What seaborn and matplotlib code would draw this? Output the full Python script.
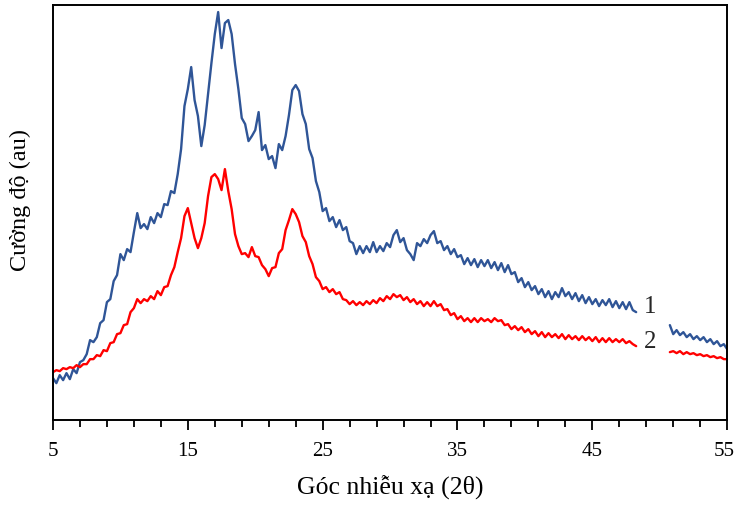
import numpy as np
import pandas as pd
import matplotlib
matplotlib.use("Agg")
import matplotlib.pyplot as plt
import matplotlib.transforms as mtransforms
import seaborn as sns

# Scan grid (2θ, degrees): main scan and the short segment after the gap
angle_main = np.arange(5.0, 48.26, 0.25)
angle_tail = np.arange(50.75, 55.01, 0.25)

# Sample 1 intensity (a.u.)
counts_1_main = [
    42, 37, 45, 40, 47, 41, 51, 47,
    58, 60, 66, 80, 78, 83, 97, 100,
    118, 121, 139, 145, 166, 160, 171, 168,
    188, 207, 192, 196, 191, 203, 197, 207,
    203, 216, 215, 229, 227, 246, 271, 314,
    331, 353, 320, 304, 274, 295, 326, 357,
    386, 408, 372, 397, 400, 386, 356, 331,
    302, 296, 279, 284, 290, 308, 270, 275,
    261, 264, 252, 276, 270, 284, 305, 330,
    335, 329, 306, 296, 271, 262, 239, 228,
    209, 212, 199, 203, 193, 200, 190, 193,
    179, 177, 166, 174, 167, 174, 168, 178,
    168, 174, 169, 177, 173, 185, 190, 178,
    182, 170, 166, 160, 177, 174, 181, 177,
    185, 189, 177, 179, 170, 174, 166, 171,
    163, 165, 156, 162, 155, 161, 153, 160,
    154, 160, 152, 158, 150, 157, 148, 155,
    146, 148, 138, 142, 133, 138, 130, 134,
    126, 131, 123, 129, 121, 128, 123, 132,
    124, 128, 121, 127, 119, 125, 117, 123,
    116, 121, 114, 120, 115, 121, 113, 119,
    112, 118, 111, 118, 110, 108,
]
counts_1_tail = [95, 86, 90, 85, 88, 83, 86, 81, 84, 80, 83, 78, 81, 76, 79, 74, 76, 71]

# Sample 2 intensity (a.u.)
counts_2_main = [
    48, 50, 49, 52, 51, 53, 52, 55,
    53, 56, 56, 61, 61, 65, 64, 70,
    69, 77, 78, 86, 87, 95, 96, 108,
    112, 121, 117, 121, 119, 124, 121, 129,
    125, 133, 134, 145, 153, 168, 182, 204,
    212, 197, 182, 172, 182, 197, 224, 243,
    246, 241, 230, 251, 229, 211, 186, 174,
    166, 167, 163, 173, 164, 163, 155, 151,
    144, 152, 153, 167, 171, 190, 200, 211,
    206, 198, 184, 178, 164, 156, 143, 139,
    131, 133, 128, 131, 126, 128, 121, 120,
    116, 119, 115, 118, 115, 119, 116, 120,
    117, 122, 119, 124, 121, 126, 123, 125,
    120, 123, 118, 121, 116, 119, 114, 118,
    114, 119, 114, 116, 110, 111, 105, 107,
    101, 104, 99, 102, 98, 102, 98, 102,
    99, 101, 98, 102, 99, 100, 95, 96,
    91, 94, 90, 93, 88, 91, 86, 89,
    84, 88, 83, 87, 83, 86, 82, 86,
    81, 85, 81, 84, 80, 84, 80, 83,
    79, 83, 78, 82, 78, 82, 78, 81,
    78, 81, 77, 79, 76, 74,
]
counts_2_tail = [68, 69, 67, 69, 66, 68, 66, 67, 65, 66, 64, 65, 63, 64, 62, 63, 61, 61]

curve_labels = ["1", "2"]
major_ticks = [5, 15, 25, 35, 45, 55]
colors = {"1": "#2F5597", "2": "#FF0000"}

sns.set_style("ticks")
plt.rcParams["font.family"] = ["Liberation Serif", "DejaVu Serif"]

fig = plt.figure(figsize=(7.36, 5.05), dpi=100)
ax = fig.add_axes([0.072, 0.168, 0.916, 0.822])

segments = [
    ("1", angle_main, counts_1_main),
    ("1", angle_tail, counts_1_tail),
    ("2", angle_main, counts_2_main),
    ("2", angle_tail, counts_2_tail),
]
for sample, ang, cnt in segments:
    df = pd.DataFrame({"angle": ang, "counts": cnt})
    sns.lineplot(data=df, x="angle", y="counts", ax=ax, color=colors[sample],
                 linewidth=1.7, estimator=None, sort=False)

# Curve numbers placed in the scan gap
ax.text(49.3, 113, curve_labels[0], fontsize=18, ha="center", va="center")
ax.text(49.3, 78, curve_labels[1], fontsize=18, ha="center", va="center")

ax.set_xlim(5, 55)
ax.set_ylim(0, 415)
ax.set_xticks(major_ticks)
ax.set_xticks(np.arange(7, 55, 2), minor=True)
ax.set_yticks([])
ax.tick_params(axis="x", which="major", direction="out", length=7, width=1.3,
               labelsize=15, pad=9, color="black", labelcolor="black")
ax.tick_params(axis="x", which="minor", direction="out", length=5, width=1.3,
               color="black")
for s in ax.spines.values():
    s.set_visible(True)
    s.set_color("black")
    s.set_linewidth(1.4)

# Nudge the last tick label so it stays inside the figure edge
last = ax.get_xticklabels()[-1]
last.set_transform(last.get_transform() +
                   mtransforms.ScaledTranslation(-2.5 / 100, 0, fig.dpi_scale_trans))

ax.set_xlabel("Góc nhiễu xạ (2θ)", fontsize=18.5, labelpad=10, color="black")
ax.set_ylabel("Cường độ (au)", fontsize=17.5, color="black")
ax.yaxis.set_label_coords(-0.033, 0.53)

fig.savefig("out.png", dpi=100)
